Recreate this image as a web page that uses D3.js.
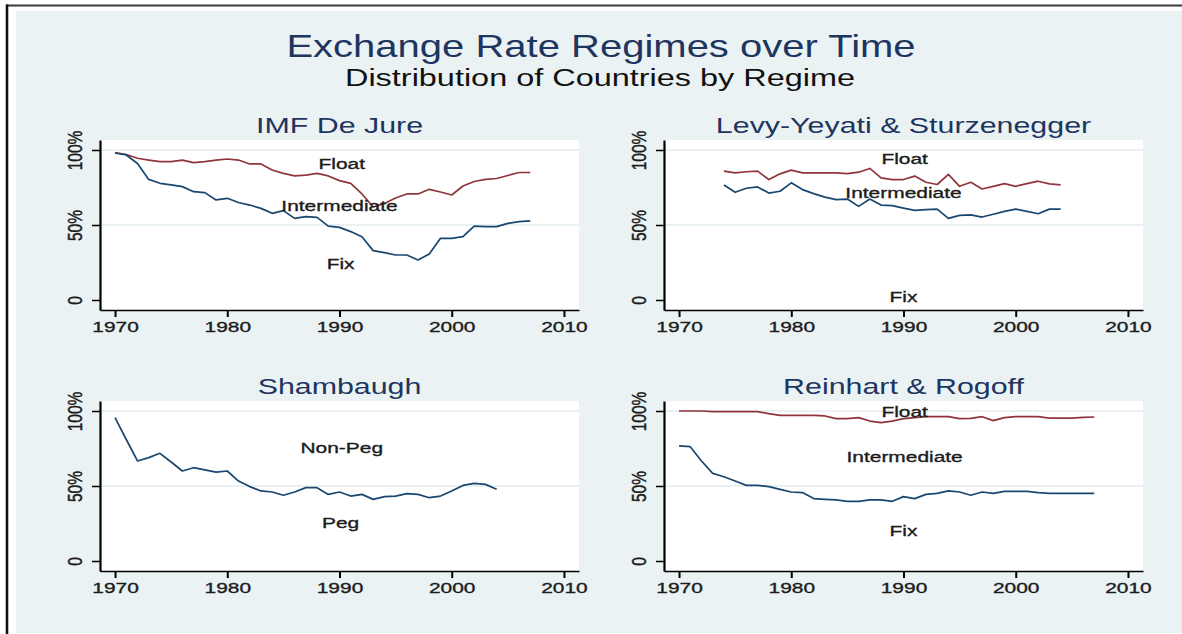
<!DOCTYPE html>
<html>
<head>
<meta charset="utf-8">
<script src="https://cdn.jsdelivr.net/npm/d3@7"></script>
<style>
  html, body { margin: 0; padding: 0; background: #fff; }
  svg { display: block; }
</style>
</head>
<body>
<div id="chart"></div>
<script>
// ---- data (shares of countries, in %) ----
var imfYears = d3.range(1970, 2008);
var imfFloat = [98.2, 97, 94.5, 93.3, 92.2, 92.2, 93.3, 91.6, 92.2, 93.3,
                94, 93.3, 90.7, 90.7, 86.7, 84.4, 82.7, 83.3, 84.4, 82.7,
                79.6, 77.8, 70.7, 62, 64.4, 68, 70.7, 70.7, 73.8, 72,
                70, 76, 79, 80.4, 81, 83, 85, 85];
var imfFix = [98, 96.7, 91, 80.4, 77.8, 76.7, 75.6, 72.2, 71.6, 66.7,
              67.8, 65, 63.3, 61.1, 57.8, 59.6, 54.4, 55.6, 55.1, 49.3,
              48.4, 45.6, 42.2, 32.9, 31.6, 30, 30, 26.7, 30.7, 41.1,
              41.1, 42.2, 49.3, 48.9, 48.9, 51.1, 52.2, 52.7];

var lysYears = d3.range(1974, 2005);
var lysFloat = [85.9, 84.8, 85.5, 85.9, 80.3, 84.1, 86.6, 84.8, 84.8, 84.8,
                84.8, 84.3, 85.2, 87.7, 81.4, 80.3, 80.3, 82.6, 78.5, 77,
                83.7, 75.8, 78.5, 74, 75.8, 77.6, 75.8, 77.6, 79.2, 77.4, 76.7];
var lysFix = [76.7, 71.8, 74.5, 75.4, 71.3, 72.5, 78.1, 73.6, 70.9, 68.6,
              66.9, 67.3, 62.4, 67.3, 63.3, 62.9, 61.3, 59.7, 60.2, 60.6,
              54.4, 56.4, 56.8, 55.3, 57.2, 59.1, 60.6, 59.1, 57.5, 60.6, 60.6];

var shamYears = d3.range(1970, 2005);
var shamPeg = [95.6, 81, 66.7, 68.9, 71.8, 66, 60, 62.2, 60.7, 59.3,
               60, 53.3, 49.6, 46.7, 46, 43.8, 46, 48.9, 48.9, 44.4,
               46, 43.3, 44.4, 41.1, 42.9, 43.3, 44.9, 44.4, 42.2, 43.3,
               46.7, 50.4, 51.8, 51.1, 47.8];

var rrYears = d3.range(1970, 2008);
var rrFloat = [100, 100, 100, 99.6, 99.6, 99.6, 99.6, 99.6, 98.2, 97.1,
               97.1, 97.1, 97.1, 96.7, 94.9, 94.9, 95.6, 93.3, 92.2, 93.3,
               94.9, 95.6, 96.2, 96.2, 96.2, 94.9, 95.1, 96.2, 93.6, 95.6,
               96.2, 96.2, 96.2, 95.3, 95.3, 95.3, 95.8, 96];
var rrFix = [76.7, 76.2, 66.7, 58.4, 56.2, 53.3, 50.4, 50.4, 49.6, 47.8,
             46, 45.6, 41.6, 41.1, 40.7, 39.8, 39.8, 40.7, 40.7, 39.8,
             42.9, 41.6, 44.4, 45.1, 46.7, 46, 43.8, 46, 45.1, 46.4,
             46.4, 46.4, 45.6, 45.1, 45.1, 45.1, 45.1, 45.1];

var xTicks = [1970, 1980, 1990, 2000, 2010];
var yTicks = [0, 50, 100];
var yTickLabels = ["0", "50%", "100%"];

// region labels: [text, year, percent]
var imfLabels = [["Float", 1990.2, 91.1], ["Intermediate", 1990, 62.7], ["Fix", 1990.1, 24.4]];
var lysLabels = [["Float", 1990.1, 94.2], ["Intermediate", 1990, 71.8], ["Fix", 1990, 2]];
var shamLabels = [["Non-Peg", 1990.2, 75.6], ["Peg", 1990.1, 25.6]];
var rrLabels = [["Float", 1990.1, 99.6], ["Intermediate", 1990.1, 70], ["Fix", 1990, 20.4]];

// ---- style ----
var W = 1182, H = 634;
var FONT = "'Liberation Sans', Arial, Helvetica, sans-serif";
var K = 1.35;              // horizontal stretch of the source picture
var navy = "#1a476f", maroon = "#90353b";
var bg = "#eaf2f3", titleCol = "#1e3560", inkCol = "#1c1c1c";

var panels = [
  { title: "IMF De Jure", left: 100, top: 140, years: imfYears,
    series: [[imfFloat, maroon], [imfFix, navy]], labels: imfLabels },
  { title: "Levy-Yeyati & Sturzenegger", left: 664, top: 140, years: lysYears,
    series: [[lysFloat, maroon], [lysFix, navy]], labels: lysLabels },
  { title: "Shambaugh", left: 100, top: 401, years: shamYears,
    series: [[shamPeg, navy]], labels: shamLabels },
  { title: "Reinhart & Rogoff", left: 664, top: 401, years: rrYears,
    series: [[rrFloat, maroon], [rrFix, navy]], labels: rrLabels }
];
var pw = 479, ph = 170;

var svg = d3.select("#chart").append("svg")
    .attr("width", W)
    .attr("height", H);

// frame
svg.append("rect").attr("width", W).attr("height", H).attr("fill", "#fff");
svg.append("rect").attr("x", 16).attr("y", 11).attr("width", W - 16).attr("height", H - 12).attr("fill", bg);
svg.append("line").attr("x1", 6).attr("x2", W).attr("y1", 5.5).attr("y2", 5.5)
    .attr("stroke", "#3a3a3a").attr("stroke-width", 2.2);
svg.append("line").attr("x1", 7).attr("x2", 7).attr("y1", 4.5).attr("y2", H)
    .attr("stroke", "#111").attr("stroke-width", 2.6);

function stretchedText(g, x, y, txt, size, color, k) {
    return g.append("text")
        .attr("transform", "translate(" + x + "," + y + ") scale(" + k + ",1)")
        .attr("text-anchor", "middle")
        .attr("font-family", FONT)
        .attr("font-size", size)
        .attr("fill", color)
        .text(txt);
}

stretchedText(svg, 601, 57, "Exchange Rate Regimes over Time", 32, titleCol, 1.25);
stretchedText(svg, 600, 86, "Distribution of Countries by Regime", 23, "#111", 1.41);

panels.forEach(function(p) {
    var g = svg.append("g");

    var x = d3.scaleLinear()
        .domain([1968.66, 2011.34])
        .range([p.left, p.left + pw]);
    var y = d3.scaleLinear()
        .domain([-6.67, 106.67])
        .range([p.top + ph, p.top]);

    g.append("rect")
        .attr("x", p.left).attr("y", p.top)
        .attr("width", pw).attr("height", ph)
        .attr("fill", "#fff");

    // grid
    g.append("g")
        .selectAll("line")
        .data([50, 100])
        .enter()
        .append("line")
        .attr("x1", p.left).attr("x2", p.left + pw)
        .attr("y1", function(d) { return y(d); })
        .attr("y2", function(d) { return y(d); })
        .attr("stroke", "#e3edef")
        .attr("stroke-width", 1.6);

    // lines
    var line = d3.line()
        .x(function(d) { return x(d[0]); })
        .y(function(d) { return y(d[1]); });
    p.series.forEach(function(s) {
        var pts = p.years.map(function(yr, i) { return [yr, s[0][i]]; });
        g.append("path")
            .datum(pts)
            .attr("d", line)
            .attr("fill", "none")
            .attr("stroke", s[1])
            .attr("stroke-width", 1.7)
            .attr("stroke-linejoin", "round");
    });

    // region labels
    p.labels.forEach(function(l) {
        stretchedText(g, x(l[1]), y(l[2]) + 5.5, l[0], 15.5, inkCol, K)
            .attr("stroke", inkCol).attr("stroke-width", 0.35);
    });

    // axes
    var xAxis = g.append("g")
        .attr("transform", "translate(0," + (p.top + ph) + ")")
        .call(d3.axisBottom(x).tickValues(xTicks).tickSize(7).tickSizeOuter(0)
              .tickFormat(d3.format("d")));
    xAxis.select(".domain").attr("stroke", "#000").attr("stroke-width", 1.6);
    xAxis.selectAll(".tick line").attr("stroke", "#000").attr("stroke-width", 2);
    xAxis.selectAll(".tick text")
        .attr("y", null).attr("dy", null)
        .attr("transform", "translate(0,22) scale(" + K + ",1)")
        .attr("font-family", FONT)
        .attr("font-size", 15.5)
        .attr("fill", inkCol)
        .attr("stroke", inkCol).attr("stroke-width", 0.35);

    var yAxis = g.append("g")
        .attr("transform", "translate(" + p.left + ",0)")
        .call(d3.axisLeft(y).tickValues(yTicks).tickSize(8).tickSizeOuter(0)
              .tickFormat(function(d, i) { return yTickLabels[i]; }));
    yAxis.select(".domain").attr("stroke", "#000").attr("stroke-width", 2.2);
    yAxis.selectAll(".tick line").attr("stroke", "#000").attr("stroke-width", 1.5);
    yAxis.selectAll(".tick text")
        .attr("x", null).attr("dy", null)
        .attr("text-anchor", "middle")
        .attr("dominant-baseline", "central")
        .attr("transform", "translate(-25,0) scale(" + K + ",1) rotate(-90)")
        .attr("font-family", FONT)
        .attr("font-size", 15.5)
        .attr("fill", inkCol)
        .attr("stroke", inkCol).attr("stroke-width", 0.35);

    stretchedText(g, p.left + pw / 2, p.top - 7, p.title, 22.5, titleCol, K);
});
</script>
</body>
</html>
